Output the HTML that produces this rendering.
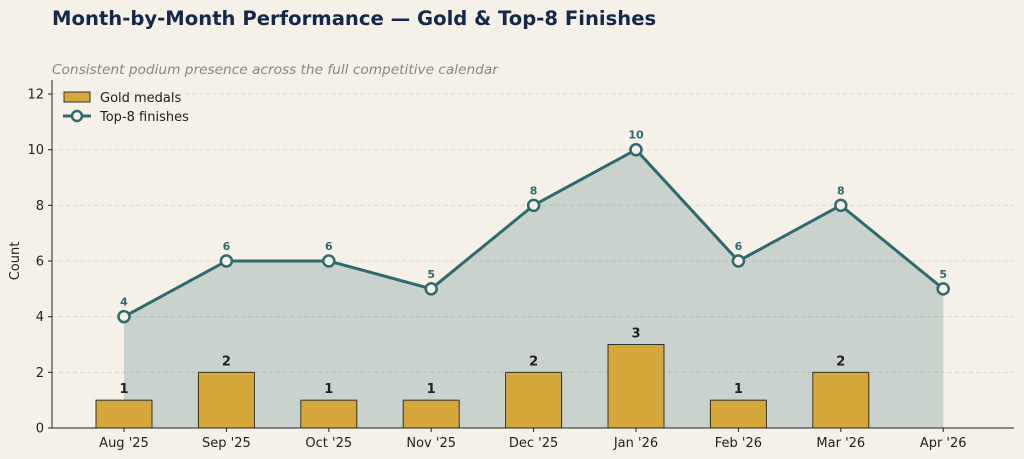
<!DOCTYPE html>
<html><head><meta charset="utf-8"><style>
body{margin:0;background:#f5f0e8;font-family:"DejaVu Sans","Liberation Sans",sans-serif;}
svg{display:block}
</style></head><body>
<svg id="chart" width="1024" height="459">
<rect width="1024" height="459" fill="#f5f0e8"/>
<text x="52" y="25" font-size="19.6" font-weight="bold" fill="#13284a">Month-by-Month Performance — Gold &amp; Top-8 Finishes</text>
<text x="52" y="74" font-size="13.7" font-style="italic" fill="#8a8580">Consistent podium presence across the full competitive calendar</text>
<g id="grid"></g><g id="marks"></g><g id="axes"></g>
<text transform="translate(19,261) rotate(-90)" text-anchor="middle" font-size="13" fill="#222">Count</text>
<g>
<rect x="64" y="92" width="26" height="10" fill="#d4a83a" stroke="#333" stroke-width="1"/>
<text x="100" y="102" font-size="13" fill="#222">Gold medals</text>
<line x1="63" y1="116" x2="91" y2="116" stroke="#2e6b6e" stroke-width="3"/>
<circle cx="77" cy="116" r="5" fill="#f5f0e8" stroke="#2e6b6e" stroke-width="2.5"/>
<text x="100" y="121" font-size="13" fill="#222">Top-8 finishes</text>
</g>
</svg>
<script>
const categories=["Aug '25","Sep '25","Oct '25","Nov '25","Dec '25","Jan '26","Feb '26","Mar '26","Apr '26"];
const gold=[1,2,1,1,2,3,1,2,0];
const top8=[4,6,6,5,8,10,6,8,5];
const yTicks=[0,2,4,6,8,10,12];
const NS="http://www.w3.org/2000/svg";
const x=i=>124+i*102.4;
const y=v=>428-v*27.83;
function mk(p,t,a){const e=document.createElementNS(NS,t);for(const k in a)e.setAttribute(k,a[k]);p.appendChild(e);return e;}
const grid=document.getElementById('grid'),marks=document.getElementById('marks'),axes=document.getElementById('axes');
yTicks.forEach(v=>{
 const g=mk(grid,'line',{x1:52,x2:1014,y1:y(v),y2:y(v),stroke:'#ddd8cf','stroke-dasharray':'4,3'});
 
 
 mk(axes,'line',{x1:48,x2:52,y1:y(v),y2:y(v),stroke:'#222'});
 const t=mk(axes,'text',{x:44,y:y(v)+4.5,'text-anchor':'end','font-size':13,fill:'#222'});t.textContent=v;
 
 
});
let d='M'+x(0)+','+y(0);top8.forEach((v,i)=>d+=' L'+x(i)+','+y(v));d+=' L'+x(top8.length-1)+','+y(0)+'Z';
const area=mk(marks,'path',{d:d,fill:'#2e6b6e','fill-opacity':0.22});


gold.forEach((v,i)=>{
 if(v<=0)return;
 const b=mk(marks,'rect',{x:x(i)-28,y:y(v),width:56,height:y(0)-y(v),fill:'#d4a83a',stroke:'#333','stroke-width':1});
 
 
 const t=mk(marks,'text',{x:x(i),y:y(v)-7,'text-anchor':'middle','font-size':13,'font-weight':'bold',fill:'#222'});t.textContent=v;
 
 
});
let ld='';top8.forEach((v,i)=>ld+=(i?' L':'M')+x(i)+','+y(v));
const line=mk(marks,'path',{d:ld,fill:'none',stroke:'#2e6b6e','stroke-width':3,'stroke-linejoin':'round'});


top8.forEach((v,i)=>{
 const c=mk(marks,'circle',{cx:x(i),cy:y(v),r:5.5,fill:'#f5f0e8',stroke:'#2e6b6e','stroke-width':2.5});
 
 
 const t=mk(marks,'text',{x:x(i),y:y(v)-11,'text-anchor':'middle','font-size':11,'font-weight':'bold',fill:'#2e6b6e'});t.textContent=v;
 
 
});
mk(axes,'line',{x1:52,x2:52,y1:80,y2:428,stroke:'#222'});
mk(axes,'line',{x1:52,x2:1014,y1:428,y2:428,stroke:'#222'});
categories.forEach((c,i)=>{
 mk(axes,'line',{x1:x(i),x2:x(i),y1:428,y2:432,stroke:'#222'});
 const t=mk(axes,'text',{x:x(i),y:447,'text-anchor':'middle','font-size':13,fill:'#222'});t.textContent=c;
 
 
});
</script>
</body></html>
